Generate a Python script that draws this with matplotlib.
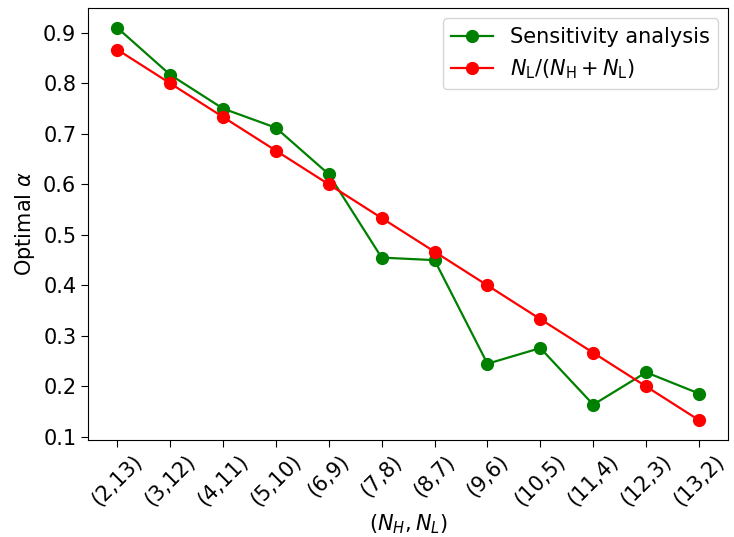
import matplotlib
matplotlib.use("Agg")
import matplotlib.pyplot as plt

pairs = ["(2,13)", "(3,12)", "(4,11)", "(5,10)", "(6,9)", "(7,8)", "(8,7)",
         "(9,6)", "(10,5)", "(11,4)", "(12,3)", "(13,2)"]
sensitivity = [0.910, 0.817, 0.750, 0.712, 0.620, 0.455, 0.450,
               0.245, 0.276, 0.164, 0.228, 0.186]
ratio = [0.8667, 0.8000, 0.7333, 0.6667, 0.6000, 0.5333, 0.4667,
         0.4000, 0.3333, 0.2667, 0.2000, 0.1333]

plt.rcParams["font.size"] = 15

fig, ax = plt.subplots(figsize=(7.34, 5.37), dpi=100)
fig.subplots_adjust(left=0.12, right=0.992, top=0.985, bottom=0.181)

x = range(len(pairs))
ax.plot(x, sensitivity, marker="o", color="green", lw=1.6, ms=8.5,
        label="Sensitivity analysis")
ax.plot(x, ratio, marker="o", color="red", lw=1.6, ms=8.5,
        label=r"$N_\mathrm{L}/(N_\mathrm{H}+N_\mathrm{L})$")

ax.set_xticks(list(x))
ax.set_xticklabels(pairs, rotation=45)
ax.tick_params(length=5)
ax.set_xlabel(r"$(N_H, N_L)$", labelpad=2)
ax.set_ylabel(r"Optimal $\alpha$")
ax.legend(loc="upper right")

plt.savefig("out.png", dpi=100)
